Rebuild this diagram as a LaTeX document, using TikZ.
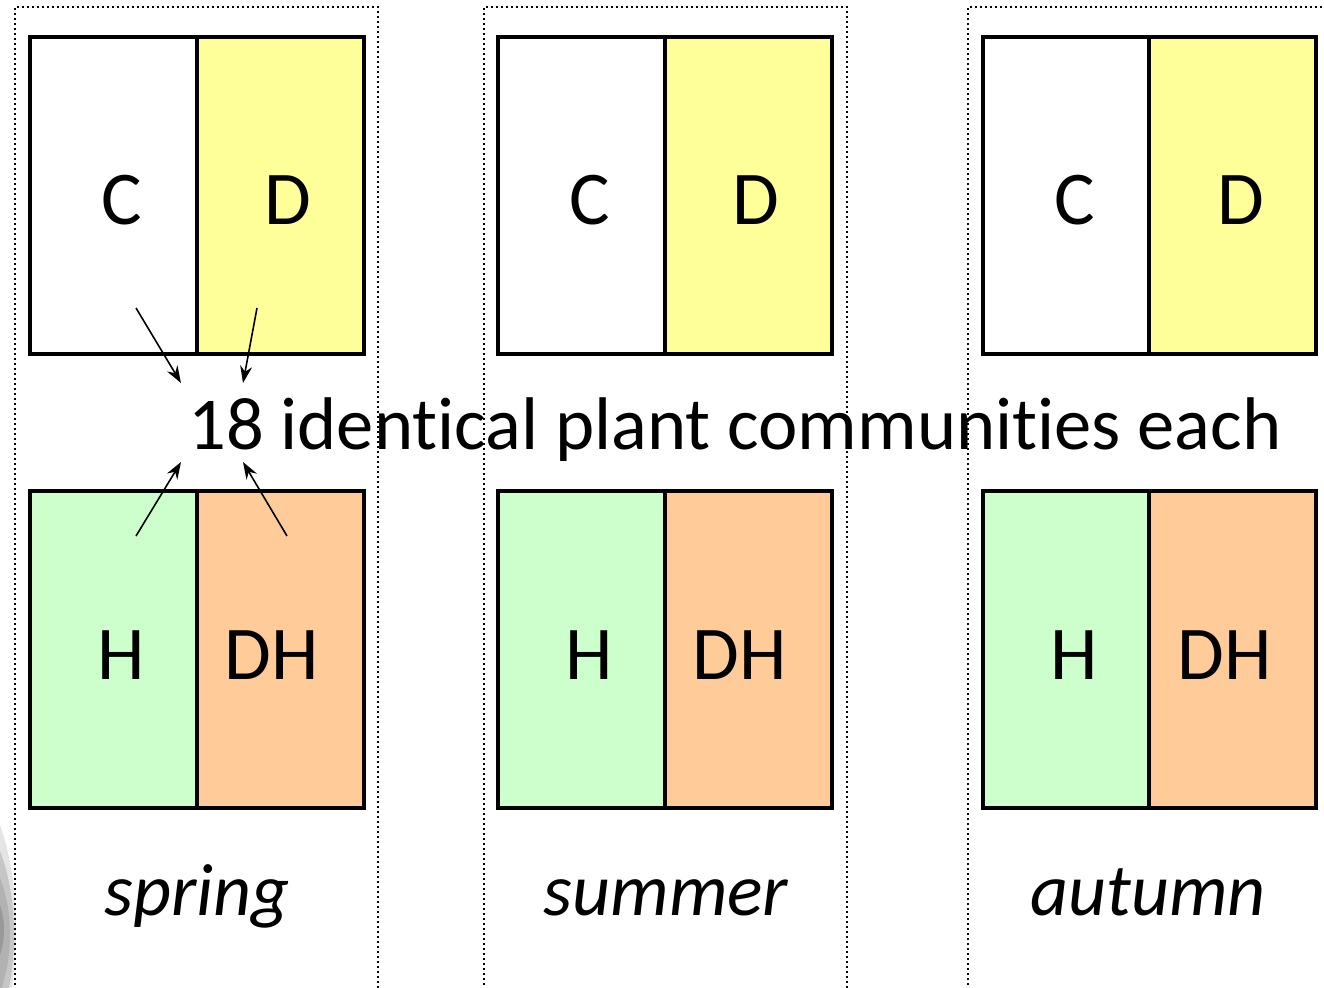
\documentclass[tikz,border=0pt]{standalone}
\usepackage{fontspec}
\setmainfont[Ligatures=NoCommon]{Carlito}
\usetikzlibrary{arrows.meta}
\definecolor{cyellow}{HTML}{FFFF99}
\definecolor{cgreen}{HTML}{CCFFCC}
\definecolor{corange}{HTML}{FFCC99}
\begin{document}
\begin{tikzpicture}[x=1pt,y=-1pt,
  cell/.style={draw=black,line width=4pt,rectangle,minimum width=167pt,minimum height=317pt,inner sep=0pt,outer sep=0pt,anchor=north west},
  lab/.style={font=\fontsize{76}{90}\selectfont,inner sep=0pt},
  season/.style={font=\fontsize{74}{88}\selectfont\itshape,inner sep=0pt,anchor=base},
  panel/.style={draw=black,line width=2.2pt,dash pattern=on 2.2pt off 2.8pt},
  arr/.style={line width=1.6pt,-{Stealth[length=17pt,width=12pt]}}]
\useasboundingbox (0,0) rectangle (1324,987);
% grey shaded remnant at left edge
\begin{scope}
\clip (0,0) rectangle (1324,987);
\fill[gray!20] (-40,930) ellipse [x radius=56pt, y radius=150pt];
\fill[gray!45] (-40,935) ellipse [x radius=54pt, y radius=125pt];
\fill[gray!60] (-40,935) ellipse [x radius=50pt, y radius=95pt];
\fill[gray!80] (-40,930) ellipse [x radius=44pt, y radius=60pt];
\end{scope}
% dotted panels
\draw[panel] (15,1000) -- (15,7) -- (378,7) -- (378,1000);
\draw[panel] (484,1000) -- (484,7) -- (847,7) -- (847,1000);
\draw[panel] (968,1000) -- (968,7) -- (1330,7);
% panel 1
\node[cell,fill=white] (c1) at (30,37) {};
\node[cell,fill=cyellow] (d1) at (197,37) {};
\node[cell,fill=cgreen] (h1) at (30,491) {};
\node[cell,fill=corange] (dh1) at (197,491) {};
% panel 2
\node[cell,fill=white] (c2) at (498,37) {};
\node[cell,fill=cyellow] (d2) at (665,37) {};
\node[cell,fill=cgreen] (h2) at (498,491) {};
\node[cell,fill=corange] (dh2) at (665,491) {};
% panel 3
\node[cell,fill=white] (c3) at (983,37) {};
\node[cell,fill=cyellow] (d3) at (1149,37) {};
\node[cell,fill=cgreen] (h3) at (983,491) {};
\node[cell,fill=corange] (dh3) at (1149,491) {};
% labels
\foreach \dx/\i in {0/1,468/2,953/3}{
  \node[lab] (lc\i) at (122+\dx,200) {C};
  \node[lab] (ld\i) at (288+\dx,200) {D};
  \node[lab] (lh\i) at (121+\dx,655) {H};
  \node[lab] (ldh\i) at (272+\dx,655) {DH};
}
\node[season] (sp) at (197,915) {spring};
\node[season] (su) at (666,915) {summer};
\node[season] (au) at (1148,915) {autumn};
% title
\node[lab,font=\fontsize{74.6}{90}\selectfont,anchor=base west] (title) at (188,449) {18 identical plant communities each};
% arrows
\coordinate (a1s) at (136,308); \coordinate (a1e) at (181,383);
\coordinate (a2s) at (257,308); \coordinate (a2e) at (243,383);
\coordinate (a3s) at (136,536); \coordinate (a3e) at (181,462);
\coordinate (a4s) at (287,536); \coordinate (a4e) at (243,462);
\draw[arr] (a1s) -- (a1e);
\draw[arr] (a2s) -- (a2e);
\draw[arr] (a3s) -- (a3e);
\draw[arr] (a4s) -- (a4e);
\end{tikzpicture}
\end{document}
